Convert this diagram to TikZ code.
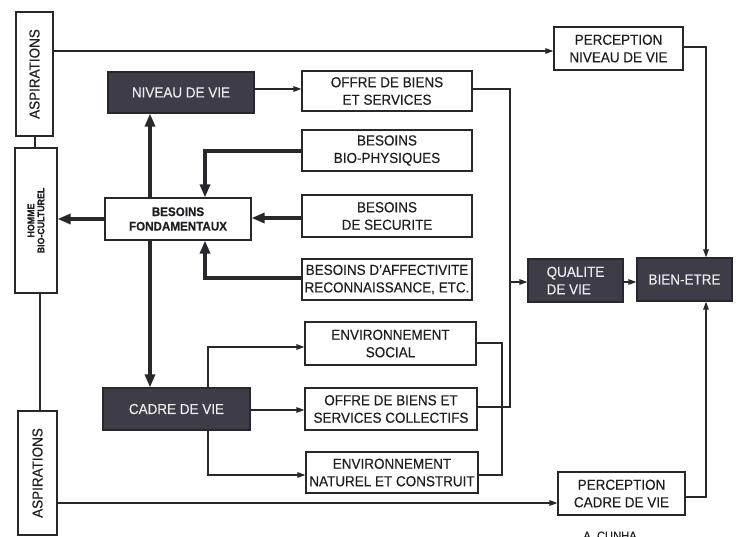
\documentclass[tikz,border=0pt]{standalone}
\usepackage{fontspec}
\setmainfont[FakeStretch=0.93, FakeBold=0.25]{Liberation Sans}
\usetikzlibrary{arrows.meta}

\definecolor{linec}{RGB}{40,40,44}
\definecolor{txtc}{RGB}{30,30,34}
\definecolor{darkf}{RGB}{62,60,70}
\definecolor{lightt}{RGB}{235,235,235}

\newcommand{\boxfont}{\fontsize{14.5}{17.5}\selectfont}
\newcommand{\smallfont}{\bfseries\fontsize{9.5}{10}\selectfont}

\tikzset{
  box/.style={draw=linec, line width=1.2pt, fill=white, text=txtc,
    align=center, inner sep=1pt, font=\boxfont},
  darkbox/.style={box, fill=darkf, text=lightt},
  link/.style={draw=linec, line width=1.3pt},
  lightarrow/.style={link, -{Triangle[length=8pt,width=5.5pt]}},
  heavyarrow/.style={draw=linec, line width=3.2pt, -{Triangle[length=13pt,width=10pt]}},
  vlabel/.style={rotate=90, text=txtc, align=center}
}

\begin{document}
\begin{tikzpicture}[x=1pt, y=-1pt]
\useasboundingbox (0,0) rectangle (737,537);

% left column
\node[box, minimum width=37pt, minimum height=124pt] (asp1) at (34.5,74) {};
\node[vlabel, font=\boxfont] (asp1t) at (asp1) {ASPIRATIONS};
\node[box, minimum width=42pt, minimum height=145pt] (homme) at (36,220.5) {};
\node[vlabel, font=\smallfont] (hommet) at (homme) {HOMME\\BIO-CULTUREL};
\node[box, minimum width=39pt, minimum height=124pt] (asp2) at (37.5,473) {};
\node[vlabel, font=\boxfont] (asp2t) at (asp2) {ASPIRATIONS};

% central blocks
\node[darkbox, minimum width=146pt, minimum height=41pt] (niveau) at (181,92.5) {NIVEAU DE VIE};
\node[box, minimum width=146pt, minimum height=42pt, font=\bfseries\fontsize{12.5}{14.5}\selectfont] (fond) at (178,219) {BESOINS\\FONDAMENTAUX};
\node[darkbox, minimum width=147pt, minimum height=42pt] (cadre) at (176.5,409) {CADRE DE VIE};

% needs and offers
\node[box, minimum width=170pt, minimum height=40pt] (offre) at (387,91) {OFFRE DE BIENS\\ET SERVICES};
\node[box, minimum width=170pt, minimum height=41pt] (bio) at (387,150.5) {BESOINS\\BIO-PHYSIQUES};
\node[box, minimum width=170pt, minimum height=42pt] (secu) at (387,216) {BESOINS\\DE SECURITE};
\node[box, minimum width=170pt, minimum height=41pt] (affect) at (387,279.5) {BESOINS D'AFFECTIVITE\\RECONNAISSANCE, ETC.};
\node[box, minimum width=171pt, minimum height=43pt] (social) at (390.5,343.5) {ENVIRONNEMENT\\SOCIAL};
\node[box, minimum width=172pt, minimum height=42pt] (coll) at (391,409) {OFFRE DE BIENS ET\\SERVICES COLLECTIFS};
\node[box, minimum width=172pt, minimum height=41pt] (nat) at (392,472.5) {ENVIRONNEMENT\\NATUREL ET CONSTRUIT};

% right column
\node[box, minimum width=129pt, minimum height=43pt] (percN) at (618.5,48.5) {PERCEPTION\\NIVEAU DE VIE};
\node[darkbox, minimum width=95pt, minimum height=43pt, align=left] (qual) at (575.5,280.5) {QUALITE\\DE VIE};
\node[darkbox, minimum width=95pt, minimum height=43pt] (bien) at (684.5,279.5) {BIEN-ETRE};
\node[box, minimum width=127pt, minimum height=43pt] (percC) at (621.5,493.5) {PERCEPTION\\CADRE DE VIE};

\node[text=txtc, font=\fontsize{12}{13}\selectfont, anchor=north] (auteur) at (610,528) {A. CUNHA};

% links of the left column
\draw[link] (asp1.south -| 35,0) -- (homme.north -| 35,0);
\draw[link] (homme.south -| 40,0) -- (asp2.north -| 40,0);

% aspirations towards perceptions
\draw[lightarrow] (asp1.east |- 0,51) -- (percN.west |- 0,51);
\draw[lightarrow] (asp2.east |- 0,503) -- (percC.west |- 0,503);
\draw[lightarrow] (percN.east |- 0,47) -| (bien.north -| 706,0);
\draw[lightarrow] (percC.east |- 0,497) -| (bien.south -| 706,0);

% fundamental needs
\draw[heavyarrow] (bio.west |- 0,151) -| (fond.north -| 205,0);
\draw[heavyarrow] (secu.west |- 0,218) -- (fond.east |- 0,218);
\draw[heavyarrow] (affect.west |- 0,278) -| (fond.south -| 205,0);
\draw[heavyarrow] (fond.west) -- (homme.east |- fond.west);
\draw[heavyarrow] (fond.north -| 150,0) -- (niveau.south -| 150,0);
\draw[heavyarrow] (fond.south -| 150,0) -- (cadre.north -| 150,0);

% standard of living and living environment
\draw[lightarrow] (niveau.east |- 0,89) -- (offre.west |- 0,89);
\draw[lightarrow] (cadre.east |- 0,410) -- (coll.west |- 0,410);
\draw[lightarrow] (cadre.north -| 208,0) |- (social.west |- 0,347);
\draw[lightarrow] (cadre.south -| 208,0) |- (nat.west |- 0,475);

% towards quality of life
\coordinate (busQ) at (510,282);
\draw[link] (offre.east |- 0,89) -| (busQ) |- (coll.east |- 0,407);
\draw[link] (social.east |- 0,343) -| (502,475) -- (nat.east |- 0,475);
\draw[lightarrow] (busQ) -- (qual.west |- busQ);
\draw[lightarrow] (qual.east |- 0,282) -- (bien.west |- 0,282);
\end{tikzpicture}
\end{document}
